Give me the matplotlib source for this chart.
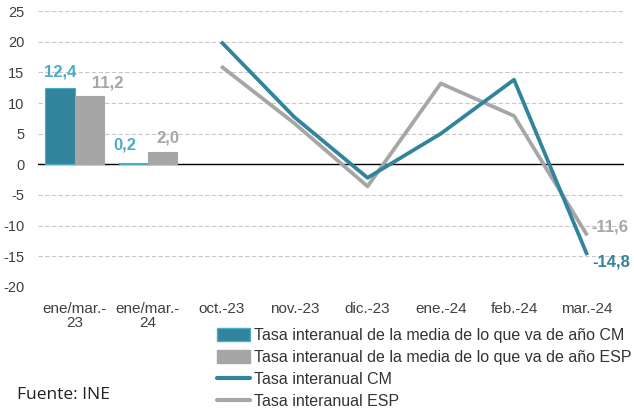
import numpy as np
import matplotlib.pyplot as plt
from matplotlib.patches import Patch
from matplotlib.lines import Line2D

plt.rcParams['font.family'] = ['Liberation Sans', 'DejaVu Sans']
plt.rcParams['axes.unicode_minus'] = False

# categories
cats = ["ene/mar.-\n23", "ene/mar.-\n24", "oct.-23", "nov.-23", "dic.-23",
        "ene.-24", "feb.-24", "mar.-24"]

# year-to-date average rates (bars)
media_cm = [12.4, 0.2]
media_esp = [11.2, 2.0]

# monthly year-on-year rates (lines), oct.-23 .. mar.-24
inter_cm = [20.0, 7.7, -2.2, 5.0, 13.8, -14.8]
inter_esp = [16.0, 6.7, -3.6, 13.2, 7.9, -11.6]

teal = "#31849B"
teal_lt = "#4BACC6"
grey = "#A6A6A6"

fig = plt.figure(figsize=(6.34, 4.11), dpi=100)
ax = fig.add_axes([0.06, 0.302, 0.924, 0.671])

xb = np.arange(len(media_cm))
w = 0.4
ax.bar(xb - w / 2, media_cm, w, color=teal, edgecolor=teal_lt, linewidth=0.8, zorder=3)
ax.bar(xb + w / 2, media_esp, w, color=grey, edgecolor=grey, linewidth=0.8, zorder=3)

xl = np.arange(2, 2 + len(inter_cm))
ax.plot(xl, inter_esp, color=grey, lw=2.7, zorder=4, solid_capstyle='butt')
ax.plot(xl, inter_cm, color=teal, lw=2.7, zorder=5, solid_capstyle='butt')

# data labels
lab = dict(fontsize=12, fontweight='bold', ha='center', va='center')
ax.annotate("12,4", (xb[0] - w / 2, media_cm[0]), xytext=(0, 12),
            textcoords='offset points', color=teal_lt, **lab)
ax.annotate("11,2", (xb[0] + w / 2, media_esp[0]), xytext=(13, 9),
            textcoords='offset points', color=grey, **lab)
ax.annotate("0,2", (xb[1] - w / 2, media_cm[1]), xytext=(-6, 13),
            textcoords='offset points', color=teal_lt, **lab)
ax.annotate("2,0", (xb[1] + w / 2, media_esp[1]), xytext=(4, 10),
            textcoords='offset points', color=grey, **lab)
ax.annotate("-11,6", (xl[-1], inter_esp[-1]), xytext=(16, 6),
            textcoords='offset points', color=grey, **lab)
ax.annotate("-14,8", (xl[-1], inter_cm[-1]), xytext=(17, -5),
            textcoords='offset points', color=teal, **lab)

ax.set_xlim(-0.5, 7.5)
ax.set_ylim(-20, 25)
ax.set_yticks(np.arange(-20, 26, 5))
ax.set_xticks(np.arange(len(cats)))
ax.set_xticklabels(cats, fontsize=11, color="#404040", linespacing=1.0)
ax.tick_params(axis='y', labelsize=10.5, labelcolor="#404040", length=0, pad=10)
ax.tick_params(axis='x', length=0, pad=11)
ax.grid(axis='y', color="#C8C8C8", linestyle=(0, (4, 2)), linewidth=0.8, zorder=0)
ax.axhline(0, color="black", lw=1.0, zorder=2)
for s in ax.spines.values():
    s.set_visible(False)

handles = [Patch(facecolor=teal, edgecolor=teal_lt),
           Patch(facecolor=grey, edgecolor=grey),
           Line2D([], [], color=teal, lw=3, solid_capstyle='round'),
           Line2D([], [], color=grey, lw=3, solid_capstyle='round')]
labels = ["Tasa interanual de la media de lo que va de año CM",
          "Tasa interanual de la media de lo que va de año ESP",
          "Tasa interanual CM",
          "Tasa interanual ESP"]
fig.legend(handles, labels, loc='upper left', bbox_to_anchor=(0.342, 0.203),
           frameon=False, fontsize=11.5, handlelength=2.1, handleheight=0.9,
           handletextpad=0.2, labelspacing=0.44, borderaxespad=0, borderpad=0,
           labelcolor="#333333")

fig.text(0.027, 0.04, "Fuente: INE", fontsize=12.5, family=['Open Sans', 'DejaVu Sans'],
         color="#222222", va='center')

fig.savefig("out.png", dpi=100)
